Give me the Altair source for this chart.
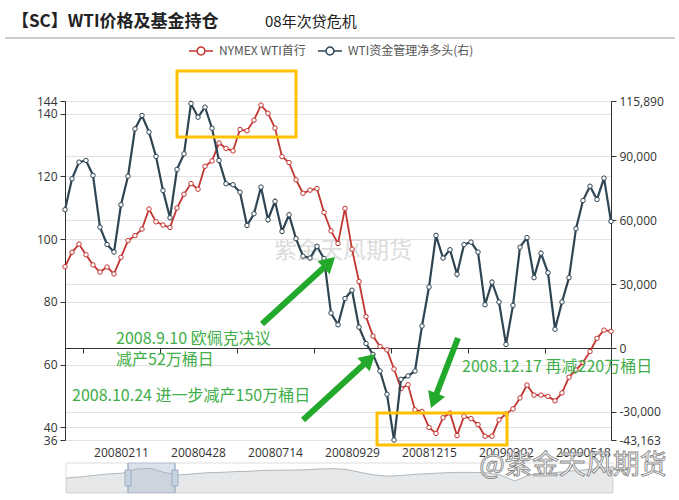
import altair as alt
import pandas as pd

# ---------------- data ----------------
dates = [d.strftime("%Y%m%d") for d in pd.date_range("2007-12-17", periods=79, freq="7D")]
label_dates = ["20080211", "20080428", "20080714", "20080929", "20081215", "20090302", "20090518"]

wti = [91.2, 95.8, 98.4, 95.0, 91.8, 89.5, 91.1, 88.9, 94.2, 99.5,
       101.1, 103.2, 109.6, 105.5, 104.5, 103.7, 109.9, 114.3, 117.7, 115.9,
       123.2, 124.9, 130.6, 128.9, 128.1, 134.9, 134.5, 137.9, 142.7, 140.1,
       135.4, 126.3, 124.4, 118.9, 114.6, 115.6, 116.1, 108.5, 102.6, 98.6,
       109.8, 96.8, 86.5, 75.3, 69.1, 65.8, 64.7, 58.6, 52.4, 53.6,
       45.6, 45.1, 40.0, 38.1, 43.1, 44.6, 37.4, 43.5, 42.8, 40.9,
       37.2, 37.2, 42.4, 44.3, 45.9, 49.4, 53.5, 50.3, 50.3, 49.9,
       48.5, 51.0, 56.0, 58.3, 60.7, 64.2, 68.4, 71.0, 70.6]

net_long = [64900, 79400, 87200, 88000, 81000, 56700, 48600, 45000, 67200, 80600,
            102800, 109100, 101300, 89900, 73900, 61100, 83800, 91100, 114700, 108300,
            113000, 103100, 88000, 77100, 76600, 73100, 57500, 63000, 75500, 60200,
            68800, 54700, 62500, 51300, 43100, 42200, 47700, 42000, 16400, 10900,
            23200, 27100, 9800, 2100, -3000, -10800, -21700, -43163, -14700, -13100,
            -10800, 10300, 28600, 52800, 42200, 46100, 34600, 48500, 49700, 45000,
            20300, 30900, 21600, 1700, 20000, 47300, 51800, 33000, 44500, 35300,
            8800, 21600, 33000, 56000, 69200, 75900, 69700, 79700, 59400]

left_ticks = [36, 40, 60, 80, 100, 120, 140, 144]
right_ticks = [-43163, -30000, 0, 30000, 60000, 90000, 115890]

# data-zoom slider shadow (overview series)
slider_vals = [40, 43, 47, 51, 53, 64, 66, 55, 48, 51,
               54, 55, 57, 58, 60, 61, 61, 62, 64, 65,
               63, 55, 48, 45, 47, 50, 52, 54, 55, 55,
               54, 48, 32, 48, 52, 55, 59, 62, 66, 70]

RED_NAME = "NYMEX WTI首行"
DARK_NAME = "WTI资金管理净多头(右)"
RED = "#c23531"
DARK = "#2f4554"
GREEN_T = "#3fae49"
GREEN_A = "#22a82a"
GOLD = "#ffc000"
CJK = "Noto Sans CJK SC"
NUM = "Open Sans"

# ---------------- layout ----------------
W, H = 546, 339
PL, PT = 65, 101

df_red = pd.DataFrame({"date": dates, "value": wti, "series": RED_NAME})
df_dark = pd.DataFrame({"date": dates, "value": net_long, "series": DARK_NAME})
df_slider = pd.DataFrame({"i": list(range(len(slider_vals))), "h": slider_vals})
one = pd.DataFrame({"k": [0]})

xs = alt.Scale(type="point", domain=dates, padding=0)
yl = alt.Scale(domain=[36, 144], nice=False, zero=False)
yr = alt.Scale(domain=[-43163, 115890], nice=False, zero=False)

LEG_PATH = "M-1,0H-0.33M0.33,0H1M-0.33,0A0.33,0.33,0,1,1,0.33,0A0.33,0.33,0,1,1,-0.33,0"
color_enc = alt.Color(
    "series:N",
    scale=alt.Scale(domain=[RED_NAME, DARK_NAME], range=[RED, DARK]),
    legend=alt.Legend(orient="none", legendX=123, legendY=-63, direction="horizontal",
                      title=None, symbolType=LEG_PATH, symbolSize=576, symbolStrokeWidth=1.5,
                      labelFont=CJK, labelFontSize=12, labelColor="#555", labelOffset=5,
                      columnPadding=9, padding=0),
)

x_axis = alt.Axis(values=label_dates, offset=-92, domainColor="#333", tickColor="#333",
                  tickSize=5, labelPadding=94, labelColor="#333", labelFontSize=12,
                  labelFont=NUM, tickOffset=-38.4, labelOffset=38.4, grid=False,
                  title=None, labelAngle=0, labelOverlap=False)

left_axis = alt.Axis(orient="left", values=left_ticks, grid=True, gridColor="#e2e2e2",
                     domainColor="#333", tickColor="#333", tickSize=5, labelColor="#333",
                     labelFont=NUM, labelFontSize=12, labelPadding=3, labelOverlap=False,
                     title=None)
right_axis = alt.Axis(orient="right", values=right_ticks, grid=True, gridColor="#e2e2e2",
                      domainColor="#333", tickColor="#333", tickSize=5, labelColor="#333",
                      labelFont=NUM, labelFontSize=12, labelPadding=3, labelOverlap=False,
                      title=None,
                      labelExpr="datum.value < 0 ? '-' + format(-datum.value, ',') : format(datum.value, ',')")

red_line = alt.Chart(df_red).mark_line(strokeWidth=1.8).encode(
    x=alt.X("date:O", scale=xs, axis=x_axis),
    y=alt.Y("value:Q", scale=yl, axis=left_axis),
    color=color_enc,
)
red_pts = alt.Chart(df_red).mark_point(shape="circle", filled=True, fill="white", size=20,
                                        strokeWidth=1, opacity=1).encode(
    x=alt.X("date:O", scale=xs, axis=None),
    y=alt.Y("value:Q", scale=yl, axis=None),
    stroke=alt.value(RED),
)
dark_line = alt.Chart(df_dark).mark_line(strokeWidth=2.2).encode(
    x=alt.X("date:O", scale=xs, axis=None),
    y=alt.Y("value:Q", scale=yr, axis=right_axis),
    color=color_enc,
)
dark_pts = alt.Chart(df_dark).mark_point(shape="circle", filled=True, fill="white", size=20,
                                          strokeWidth=1, opacity=1).encode(
    x=alt.X("date:O", scale=xs, axis=None),
    y=alt.Y("value:Q", scale=yr, axis=None),
    stroke=alt.value(DARK),
)


# ---------------- annotation helpers (pixel positions on the canvas) ----------------
def T(text, X, Y, size, color, font=CJK, align="left", weight="normal", **kw):
    return alt.Chart(pd.DataFrame({"t": [text]})).mark_text(
        align=align, baseline="middle", fontSize=size, color=color, font=font,
        fontWeight=weight, **kw
    ).encode(x=alt.value(X - PL), y=alt.value(Y - PT), text="t:N")


def R(X1, Y1, X2, Y2, color, width, **kw):
    return alt.Chart(one).mark_rule(color=color, strokeWidth=width, **kw).encode(
        x=alt.value(X1 - PL), y=alt.value(Y1 - PT),
        x2=alt.value(X2 - PL), y2=alt.value(Y2 - PT))


def B(X1, Y1, X2, Y2, stroke="#000", sw=1, fill="white", fo=0.0, **kw):
    return alt.Chart(one).mark_rect(stroke=stroke, strokeWidth=sw, fill=fill,
                                    fillOpacity=fo, **kw).encode(
        x=alt.value(X1 - PL), y=alt.value(Y1 - PT),
        x2=alt.value(X2 - PL), y2=alt.value(Y2 - PT))


def Head(X, Y, angle, color, size):
    return alt.Chart(one).mark_point(shape="triangle-up", filled=True, color=color,
                                     size=size, angle=angle, opacity=1).encode(
        x=alt.value(X - PL), y=alt.value(Y - PT))


# slider
slider_area = alt.Chart(df_slider).mark_area(
    color=DARK, fillOpacity=0.12,
    line=alt.OverlayMarkDef(color=DARK, strokeOpacity=0.35, strokeWidth=1),
).encode(
    x=alt.X("i:Q", scale=alt.Scale(domain=[0, len(slider_vals) - 1], range=[1, 548],
                                    nice=False, zero=False), axis=None),
    y=alt.Y("h:Q", scale=alt.Scale(domain=[0, 80], range=[392, 362], nice=False),
            axis=None),
)

layers = [
    T("紫金天风期货", 343, 251, 23, "#dcdcdc", align="center"),
    red_line, red_pts, dark_line, dark_pts,
    # title block
    T("【SC】WTI价格及基金持仓", 12, 22, 17, "#222", weight="bold"),
    T("08年次贷危机", 265, 22, 15, "#222"),
    R(5, 38, 675, 38, "#9a9a9a", 1),
    # highlight boxes
    B(177, 71, 296, 137, stroke=GOLD, sw=3),
    B(377, 413, 507, 445, stroke=GOLD, sw=3),
    # arrows
    R(262, 324, 325, 266.5, GREEN_A, 6),
    Head(329.3, 262.3, 47.5, GREEN_A, 330),
    R(303, 420, 364.7, 363.5, GREEN_A, 6),
    Head(369.3, 359.3, 47.5, GREEN_A, 330),
    R(458, 338, 436, 395, GREEN_A, 6),
    Head(433.8, 400.7, 201.1, GREEN_A, 330),
    # notes
    T("2008.9.10 欧佩克决议", 116, 339, 16, GREEN_T),
    T("减产52万桶日", 116, 360, 16, GREEN_T),
    T("2008.10.24 进一步减产150万桶日", 72, 396, 16, GREEN_T),
    T("2008.12.17 再减220万桶日", 462, 367, 16, GREEN_T),
    # data zoom slider
    B(66, 463, 613, 493, stroke="#dddddd", sw=1),
    slider_area,
    B(128, 463, 175, 493, stroke="#a7b7cc", sw=0.5, fill="#a7b7cc", fo=0.4),
    R(128, 463, 128, 493, "#a7b7cc", 1.5),
    R(175, 463, 175, 493, "#a7b7cc", 1.5),
    B(125, 470, 131, 486, stroke="#8fa3bd", sw=0.8, fill="#c8d3e0", fo=1),
    B(172, 470, 178, 486, stroke="#8fa3bd", sw=0.8, fill="#c8d3e0", fo=1),
    T("@紫金天风期货", 573, 466, 27, "white", align="center", stroke="#8a8a8a",
      strokeWidth=0.9),
]

chart = alt.layer(*layers).resolve_scale(
    x="independent", y="independent"
).properties(
    width=W, height=H,
    autosize=alt.AutoSizeParams(type="none"),
    padding={"left": PL, "top": PT, "right": 679 - PL - W, "bottom": 500 - PT - H},
    background="white",
).configure_view(strokeWidth=0)

chart.save("out.html", embed_options={"renderer": "svg", "actions": False})
